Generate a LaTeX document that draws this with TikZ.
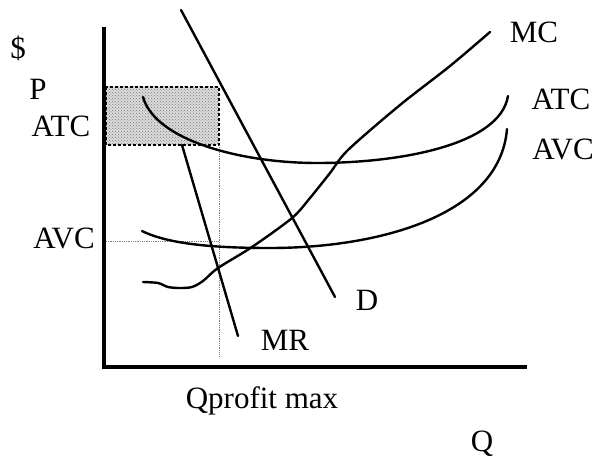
\documentclass[tikz,border=0pt]{standalone}
\usepackage{fontspec}
\setmainfont{Liberation Serif}
\usetikzlibrary{patterns}
\tikzset{
  every node/.style={font=\fontsize{31}{36}\selectfont,inner sep=0pt,anchor=base},
  axis/.style={line width=4.5pt,line join=miter},
  curve/.style={line width=2.4pt,line cap=round,line join=round},
  guide/.style={densely dotted,line width=0.8pt,draw=gray},
  profitfill/.style={fill=gray!28},
  profitdots/.style={pattern=crosshatch dots,pattern color=gray!95!black},
  profitedge/.style={densely dashed,line width=1.3pt},
}
\begin{document}
\begin{tikzpicture}[x=1pt,y=-1pt]
\useasboundingbox (0,0) rectangle (596,457);

% profit rectangle
\coordinate (pa) at (106,87);
\coordinate (pb) at (219,145);
\fill[profitfill] (pa) rectangle (pb);
\fill[profitdots] (pa) rectangle (pb);
\draw[profitedge] (pa) rectangle (pb);

% guides
\draw[guide] (106,241) -- (219,241);
\draw[guide] (219,145) -- (219,356);

% axes
\draw[axis] (104,27) |- (527,367);

% cost curves
\draw[curve] (143,97) .. controls (155,140) and (240,163) .. (317,163)
  .. controls (400,163) and (500,145) .. (508,96);
\draw[curve] (142,231) .. controls (170,245) and (220,248) .. (270,248)
  .. controls (380,248) and (500,215) .. (507,129);
\draw[curve] plot[smooth,tension=0.5] coordinates {(143,282) (158,283) (168,287) (180,288) (192,287) (203,281) (218,268) (252,247) (292,218) (310,198) (330,173) (348,150) (400,105) (450,66) (490,32)};

% demand and MR
\draw[curve] (181,10) -- (335,297);
\draw[curve] (182,145) -- (238,336);

% labels
\node (dollar) at (18,59) {\$};
\node (price) at (38,100) {P};
\node (atcl) at (61,137) {ATC};
\node (avcl) at (64,248) {AVC};
\node (mc) at (534,43) {MC};
\node (atc) at (561,110) {ATC};
\node (avc) at (563,160) {AVC};
\node (dem) at (367,310) {D};
\node (mr) at (285,350) {MR};
\node (qpm) at (262,408) {Qprofit max};
\node (qty) at (482,451) {Q};
\end{tikzpicture}
\end{document}
